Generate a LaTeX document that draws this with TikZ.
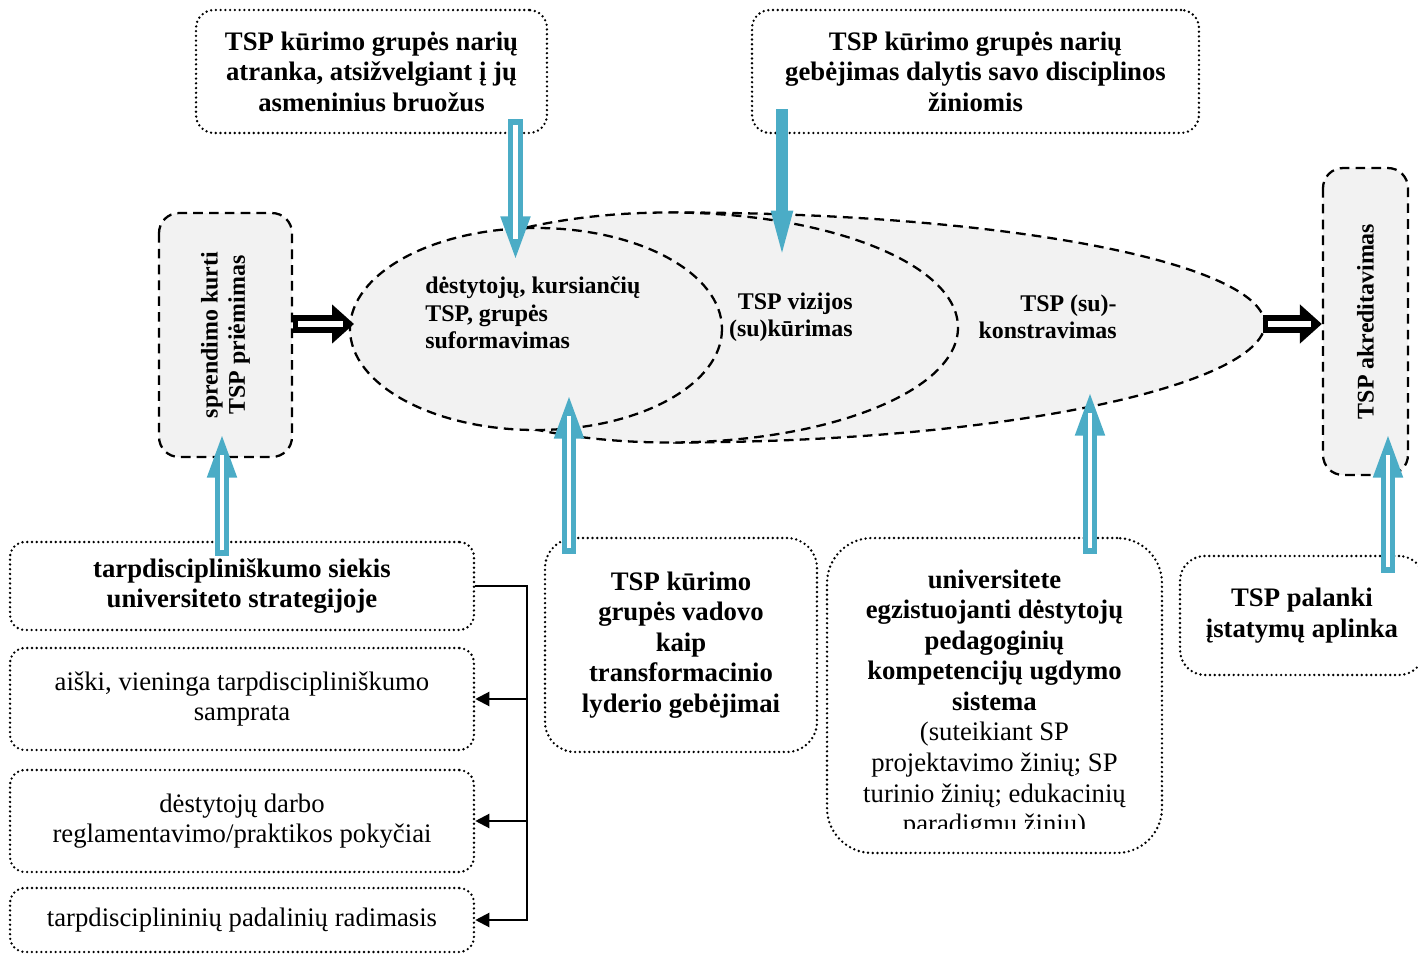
\documentclass[tikz,border=0pt]{standalone}
\usepackage{fontspec}
\setmainfont{Liberation Serif}
\usetikzlibrary{arrows.meta,calc}
\definecolor{tspblue}{HTML}{4BACC6}
\definecolor{tspgray}{HTML}{F2F2F2}
\newcommand{\tspfont}{\fontsize{15.2}{17.4}\selectfont}
\newcommand{\tspsmall}{\fontsize{13.6}{15.6}\selectfont}
\begin{document}
\begin{tikzpicture}[x=0.02cm,y=-0.02cm,
  dotbox/.style={draw,line width=1.5pt,dash pattern=on 0pt off 2.7pt,line cap=round,
    rounded corners=#1,align=center,inner sep=0pt,font=\tspfont},
  dotbox/.default=0.3cm,
  boldtext/.style={font=\tspfont\bfseries},
  dashbox/.style={draw,fill=tspgray,line width=1.3pt,dash pattern=on 5.5pt off 3.5pt,
    rounded corners=0.4cm,align=center,inner sep=0pt,rotate=90,font=\tspsmall\bfseries},
  ellpath/.style={draw,fill=tspgray,line width=1.3pt,dash pattern=on 5.5pt off 3.5pt},
  eltext/.style={inner sep=0pt,font=\tspsmall\bfseries},
  hollowblue/.style={draw=tspblue,line width=8.5pt,-{Triangle[length=26pt,width=15pt]},
    postaction={draw=white,line width=2.8pt,-,shorten >=13pt,shorten <=3pt}},
  solidblue/.style={draw=tspblue,line width=6.8pt,-{Triangle[length=35pt,width=10pt]}},
  blackarrow/.style={draw=black,line width=10pt,-{Triangle[length=12.5pt,width=21.5pt]},
    postaction={draw=white,line width=3.6pt,-,shorten >=6pt,shorten <=3pt}},
  branch/.style={line width=1.2pt,-{Triangle[length=8pt,width=8pt]}}]
  \useasboundingbox (0,0) rectangle (1418,956);

  % process: three nested shapes
  \draw[ellpath] (669,212.5) .. controls (1000,212) and (1262,262) .. (1265,324)
    .. controls (1262,386) and (1000,443) .. (669,442.5) -- cycle;
  \draw[ellpath] (669,327.5) ellipse [x radius=289, y radius=115];
  \draw[ellpath] (536,329) ellipse [x radius=186, y radius=101];
  \node[eltext,align=left,anchor=west] (tForm) at (425,313) {dėstytojų, kursiančių\\TSP, grupės\\suformavimas};
  \node[eltext,align=right,anchor=east] (tVision) at (853,317) {TSP vizijos\\(su)kūrimas};
  \node[eltext,align=right,anchor=east] (tConstr) at (1117,317) {TSP (su)-\\konstravimas};

  % top factors
  \node[dotbox=0.36cm,boldtext,minimum width=7.02cm,minimum height=2.46cm] (nA) at (371.5,71.5)
    {TSP kūrimo grupės narių\\atranka, atsižvelgiant į jų\\asmeninius bruožus};
  \node[dotbox=0.36cm,boldtext,minimum width=8.94cm,minimum height=2.46cm] (nB) at (975.5,71.5)
    {TSP kūrimo grupės narių\\gebėjimas dalytis savo disciplinos\\žiniomis};

  % start and end
  \node[dashbox,minimum width=4.88cm,minimum height=2.66cm] (nDecide) at (225.5,335)
    {sprendimo kurti\\TSP priėmimas};
  \node[dashbox,minimum width=6.14cm,minimum height=1.7cm] (nAccr) at (1365.5,321.5)
    {TSP akreditavimas};

  % bottom factors
  \node[dotbox,boldtext,minimum width=9.28cm,minimum height=1.76cm] (nL1) at (242,586)
    {tarpdiscipliniškumo siekis\\universiteto strategijoje};
  \node[dotbox,minimum width=9.28cm,minimum height=2.04cm] (nL2) at (242,699)
    {aiški, vieninga tarpdiscipliniškumo\\samprata};
  \node[dotbox,minimum width=9.28cm,minimum height=2.04cm] (nL3) at (242,821)
    {dėstytojų darbo\\reglamentavimo/praktikos pokyčiai};
  \node[dotbox,minimum width=9.28cm,minimum height=1.28cm] (nL4) at (242,920)
    {tarpdisciplininių padalinių radimasis};
  \node[dotbox=0.6cm,boldtext,minimum width=5.44cm,minimum height=4.28cm] (nC) at (681,645)
    {TSP kūrimo\\grupės vadovo\\kaip\\transformacinio\\lyderio gebėjimai};
  \node[dotbox=0.9cm,minimum width=6.7cm,minimum height=6.3cm] (nD) at (994.5,695.5) {};
  \begin{scope}
    \clip (827,538) rectangle (1162,828);
    \node[inner sep=0pt,align=center,font=\tspfont] (tD) at (994.5,704)
      {\textbf{universitete}\\\textbf{egzistuojanti dėstytojų}\\\textbf{pedagoginių}\\
       \textbf{kompetencijų ugdymo}\\\textbf{sistema}\\
       (suteikiant SP\\projektavimo žinių; SP\\turinio žinių; edukacinių\\paradigmų žinių)};
  \end{scope}
  \node[dotbox=0.5cm,boldtext,minimum width=4.88cm,minimum height=2.38cm] (nE) at (1302,615.5)
    {TSP palanki\\įstatymų aplinka};

  % connectors
  \coordinate (bus) at (527,586);
  \draw[branch] (nL1.east) -- (bus) |- (nL4.east);
  \draw[branch] (bus |- nL2.east) -- (nL2.east);
  \draw[branch] (bus |- nL3.east) -- (nL3.east);

  \coordinate (ellIn) at (354,324);
  \coordinate (ellOut) at (1263,324);
  \draw[blackarrow] (nDecide.south |- ellIn) -- (ellIn);
  \draw[blackarrow] (ellOut) -- (nAccr.north |- ellOut);

  \coordinate (tipA) at (515.5,262);
  \coordinate (tipB) at (782,272);
  \coordinate (tipDec) at (222,432);
  \coordinate (tipC) at (569,393);
  \coordinate (tipD) at (1090,390);
  \coordinate (tipAccr) at (1388,432);
  \draw[hollowblue] ($(tipA |- nA.south)+(0,-15)$) -- (tipA);
  \draw[solidblue] ($(tipB |- nB.south)+(0,-25)$) -- (tipB);
  \draw[hollowblue] ($(tipDec |- nL1.north)+(0,15)$) -- (tipDec);
  \draw[hollowblue] ($(tipC |- nC.north)+(0,17)$) -- (tipC);
  \draw[hollowblue] ($(tipD |- nD.north)+(0,17)$) -- (tipD);
  \draw[hollowblue] ($(tipAccr |- nE.north)+(0,18)$) -- (tipAccr);
\end{tikzpicture}
\end{document}
